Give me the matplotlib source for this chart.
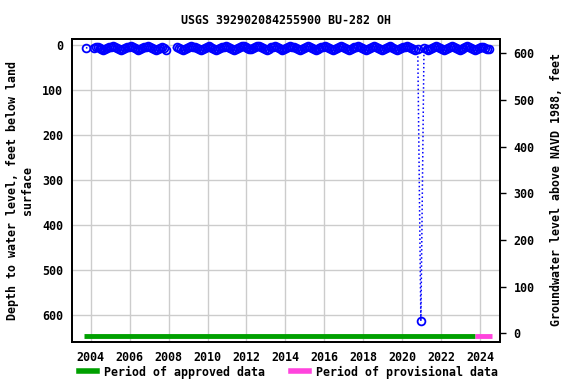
import matplotlib
matplotlib.use("Agg")
import matplotlib.pyplot as plt
from matplotlib.lines import Line2D

# ---- data ----
title = "USGS 392902084255900 BU-282 OH"
dates = [
    2003.75,
    2004.15, 2004.25, 2004.35, 2004.45, 2004.55, 2004.65, 2004.75, 2004.85, 2004.95, 2005.05,
    2005.15, 2005.25, 2005.35, 2005.45, 2005.55, 2005.65, 2005.75, 2005.85, 2005.95, 2006.05,
    2006.15, 2006.25, 2006.35, 2006.45, 2006.55, 2006.65, 2006.75, 2006.85, 2006.95, 2007.05,
    2007.15, 2007.25, 2007.35, 2007.45, 2007.55, 2007.65, 2007.75, 2007.85,
    2008.45, 2008.55, 2008.65, 2008.75, 2008.85, 2008.95, 2009.05, 2009.15, 2009.25, 2009.35,
    2009.45, 2009.55, 2009.65, 2009.75, 2009.85, 2009.95, 2010.05, 2010.15, 2010.25, 2010.35,
    2010.45, 2010.55, 2010.65, 2010.75, 2010.85, 2010.95, 2011.05, 2011.15, 2011.25, 2011.35,
    2011.45, 2011.55, 2011.65, 2011.75, 2011.85, 2011.95, 2012.05, 2012.15, 2012.25, 2012.35,
    2012.45, 2012.55, 2012.65, 2012.75, 2012.85, 2012.95, 2013.05, 2013.15, 2013.25, 2013.35,
    2013.45, 2013.55, 2013.65, 2013.75, 2013.85, 2013.95, 2014.05, 2014.15, 2014.25, 2014.35,
    2014.45, 2014.55, 2014.65, 2014.75, 2014.85, 2014.95, 2015.05, 2015.15, 2015.25, 2015.35,
    2015.45, 2015.55, 2015.65, 2015.75, 2015.85, 2015.95, 2016.05, 2016.15, 2016.25, 2016.35,
    2016.45, 2016.55, 2016.65, 2016.75, 2016.85, 2016.95, 2017.05, 2017.15, 2017.25, 2017.35,
    2017.45, 2017.55, 2017.65, 2017.75, 2017.85, 2017.95, 2018.05, 2018.15, 2018.25, 2018.35,
    2018.45, 2018.55, 2018.65, 2018.75, 2018.85, 2018.95, 2019.05, 2019.15, 2019.25, 2019.35,
    2019.45, 2019.55, 2019.65, 2019.75, 2019.85, 2019.95, 2020.05, 2020.15, 2020.25, 2020.35,
    2020.45, 2020.55, 2020.65, 2020.80,
    2020.96,
    2021.12, 2021.25, 2021.35, 2021.45, 2021.55, 2021.65, 2021.75, 2021.85, 2021.95, 2022.05,
    2022.15, 2022.25, 2022.35, 2022.45, 2022.55, 2022.65, 2022.75, 2022.85, 2022.95, 2023.05,
    2023.15, 2023.25, 2023.35, 2023.45, 2023.55, 2023.65, 2023.75, 2023.85, 2023.95, 2024.05,
    2024.15, 2024.25, 2024.35, 2024.45,
]
depths = [
    7,
    8, 6, 5, 7, 9, 11, 10, 8, 6, 5,
    4, 6, 8, 10, 11, 9, 7, 5, 6, 4,
    5, 7, 9, 11, 10, 8, 6, 5, 4, 6,
    8, 10, 11, 9, 7, 5, 8, 11,
    5, 7, 9, 11, 10, 8, 6, 4, 5, 6,
    8, 10, 11, 9, 7, 5, 4, 6, 7, 9,
    11, 10, 8, 6, 5, 4, 6, 8, 10, 11,
    9, 7, 5, 3, 4, 6, 8, 10, 9, 7,
    5, 3, 4, 6, 8, 10, 11, 9, 6, 5,
    4, 5, 7, 9, 11, 10, 8, 6, 4, 5,
    6, 8, 10, 11, 9, 7, 5, 4, 6, 7,
    9, 11, 10, 8, 6, 5, 4, 6, 8, 10,
    11, 9, 7, 5, 4, 6, 7, 9, 11, 10,
    8, 6, 5, 4, 6, 8, 10, 11, 9, 7,
    5, 4, 6, 8, 10, 11, 9, 7, 5, 4,
    5, 7, 9, 11, 10, 8, 6, 5, 4, 6,
    8, 10, 11, 9,
    615,
    8, 10, 11, 9, 7, 5, 4, 6, 8, 10,
    11, 9, 7, 5, 4, 6, 8, 10, 11, 9,
    7, 5, 4, 6, 8, 10, 11, 9, 7, 5,
    6, 8, 10, 9,
]
approved_period = (2003.67, 2023.75)
provisional_period = (2023.75, 2024.6)
bar_depth = 648
left_ticks = [0, 100, 200, 300, 400, 500, 600]
right_ticks = [0, 100, 200, 300, 400, 500, 600]
x_ticks = [2004, 2006, 2008, 2010, 2012, 2014, 2016, 2018, 2020, 2022, 2024]

plt.rcParams['font.family'] = ['DejaVu Sans Mono']
plt.rcParams['font.weight'] = 'bold'
FS = 8.4

fig = plt.figure(figsize=(5.76, 3.84), dpi=100)
ax = fig.add_axes([71.7/576, 1-341.7/384, (499.5-71.7)/576, (341.7-39)/384])

ax.plot(dates, depths, linestyle=':', linewidth=1.1, color='#0000ff',
        marker='o', markersize=5.6, markerfacecolor='none',
        markeredgecolor='#0000ff', markeredgewidth=1.3, zorder=3)

ax.plot(approved_period, [bar_depth, bar_depth], color='#00a000', linewidth=3.5,
        solid_capstyle='butt', zorder=4)
ax.plot(provisional_period, [bar_depth, bar_depth], color='#ff44dd', linewidth=3.5,
        solid_capstyle='butt', zorder=4)

ax.set_xlim(2003.02, 2025.0)
ax.set_ylim(660, -12.6)
ax.set_xticks(x_ticks)
ax.set_yticks(left_ticks)
ax.set_xticklabels([str(t) for t in x_ticks], fontsize=FS, fontweight='bold')
ax.set_yticklabels([str(t) for t in left_ticks], fontsize=FS, fontweight='bold')
ax.tick_params(axis='both', length=0)
ax.tick_params(axis='y', pad=6)
ax.tick_params(axis='x', pad=7)
ax.grid(True, color='#cccccc', linewidth=1.0)
ax.set_axisbelow(True)
for s in ax.spines.values():
    s.set_linewidth(1.3)
    s.set_color('black')

ax2 = ax.twinx()
ax2.set_ylim(-18, 630.6)
ax2.set_yticks(right_ticks)
ax2.set_yticklabels([str(t) for t in right_ticks], fontsize=FS, fontweight='bold')
ax2.tick_params(axis='y', length=4, width=1.0, pad=6, direction='out')
for s in ax2.spines.values():
    s.set_linewidth(1.3)

ax.set_title(title, fontsize=FS, fontweight='bold', pad=11)
fig.text(20/576, 1-190/384, "Depth to water level, feet below land\nsurface",
         rotation=90, ha='center', va='center', fontsize=FS, fontweight='bold',
         multialignment='center', linespacing=1.1)
fig.text(557/576, 1-190/384, "Groundwater level above NAVD 1988, feet",
         rotation=90, ha='center', va='center', fontsize=FS, fontweight='bold')

handles = [Line2D([], [], color='#00a000', linewidth=4),
           Line2D([], [], color='#ff44dd', linewidth=4)]
fig.legend(handles, ["Period of approved data", "Period of provisional data"],
           loc='center', bbox_to_anchor=(288.5/576, 1-372/384), ncol=2,
           frameon=False, fontsize=FS, handlelength=1.5, handletextpad=0.6,
           columnspacing=2.3, prop={'weight': 'bold', 'size': FS})

fig.savefig("out.png", dpi=100)
